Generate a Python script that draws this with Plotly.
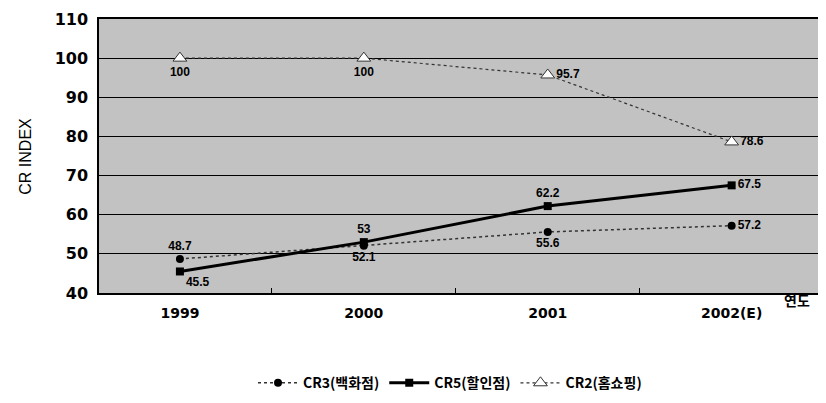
import plotly.graph_objects as go

years = ["1999", "2000", "2001", "2002(E)"]
cr3 = [48.7, 52.1, 55.6, 57.2]
cr5 = [45.5, 53, 62.2, 67.5]
cr2 = [100, 100, 95.7, 78.6]
names = ["CR3(백화점)", "CR5(할인점)", "CR2(홈쇼핑)"]

cr3_pos = ["top center", "bottom center", "bottom center", "middle right"]
cr5_pos = ["bottom right", "top center", "top center", "middle right"]
cr2_pos = ["bottom center", "bottom center", "middle right", "middle right"]

lab_font = dict(family="Liberation Sans, Arial", size=12, color="black", weight="bold")

fig = go.Figure()
fig.add_trace(go.Scatter(
    x=years, y=cr3, name=names[0], mode="lines+markers+text",
    line=dict(color="#333333", width=1.5, dash="dot"),
    marker=dict(symbol="circle", size=8, color="black"),
    text=[str(v) for v in cr3], textposition=cr3_pos, textfont=lab_font,
))
fig.add_trace(go.Scatter(
    x=years, y=cr5, name=names[1], mode="lines+markers+text",
    line=dict(color="black", width=3),
    marker=dict(symbol="square", size=8, color="black"),
    text=[str(v) for v in cr5], textposition=cr5_pos, textfont=lab_font,
))
fig.add_trace(go.Scatter(
    x=years, y=cr2, name=names[2], mode="lines+markers+text",
    line=dict(color="#333333", width=1.2, dash="dot"),
    marker=dict(symbol="triangle-up", size=12, color="white",
                line=dict(color="#333333", width=1)),
    text=[str(v) for v in cr2], textposition=cr2_pos, textfont=lab_font,
))

fig.update_layout(
    width=834, height=403,
    margin=dict(l=91, r=0, t=11, b=118),
    paper_bgcolor="white",
    plot_bgcolor="#c2c2c2",
    font=dict(family="Liberation Sans, Arial", color="black"),
    showlegend=True,
    legend=dict(orientation="h", xref="container", yref="container",
                x=0.53, xanchor="center", y=0.069, yanchor="middle",
                itemwidth=40, tracegroupgap=20,
                font=dict(family="Noto Sans CJK KR", size=14, weight="bold"),
                bgcolor="rgba(0,0,0,0)"),
    xaxis=dict(
        type="category", range=[-0.44, 3.6], automargin=False,
        showgrid=False, showline=True, linecolor="black", linewidth=1.5,
        mirror=True, ticks="inside", ticklen=5, tickcolor="black",
        tickson="boundaries", ticklabelstandoff=6,
        tickfont=dict(family="DejaVu Sans", size=14, weight="bold"),
        zeroline=False,
    ),
    yaxis=dict(
        range=[40, 110], dtick=10, showgrid=True, gridcolor="black",
        gridwidth=1.2, showline=True, linecolor="black", linewidth=1.5,
        mirror=True, ticks="", zeroline=False, automargin=False,
        ticklabelstandoff=6, ticklabeloverflow="allow",
        tickfont=dict(family="DejaVu Sans", size=16, weight="bold"),
    ),
    annotations=[
        dict(text="연도", xref="paper", yref="paper", x=0.94, y=-0.025,
             xanchor="center", yanchor="middle", showarrow=False,
             font=dict(family="Noto Sans CJK KR", size=14, weight="bold")),
        dict(text="CR INDEX", xref="paper", yref="paper", x=-0.1, y=0.5,
             xanchor="center", yanchor="middle", textangle=-90, showarrow=False,
             font=dict(family="Liberation Sans, Arial", size=16)),
    ],
)

fig.write_html("out.html")
